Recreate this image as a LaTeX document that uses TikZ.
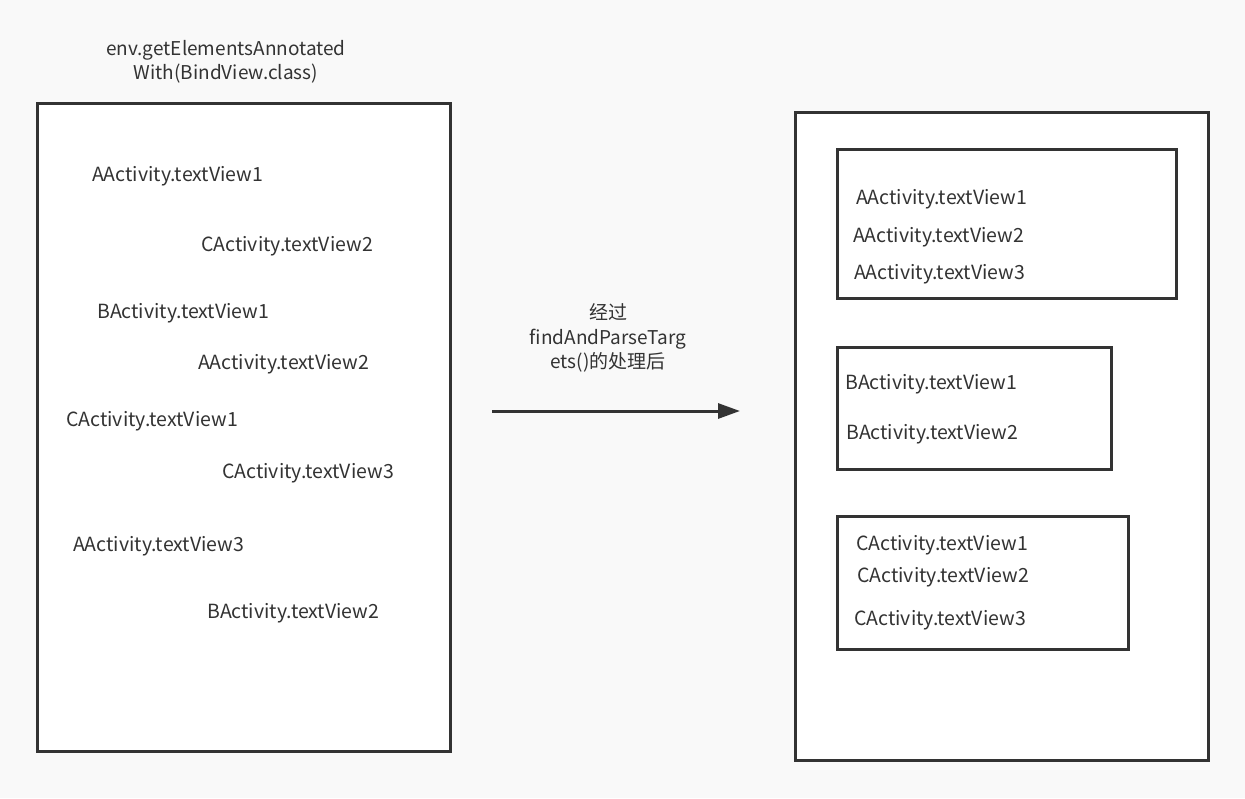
\documentclass[tikz,border=0pt]{standalone}
\usepackage{fontspec}
\setmainfont{Noto Sans CJK SC}
\usetikzlibrary{arrows.meta}
\definecolor{bg}{HTML}{F9F9F9}
\definecolor{ink}{HTML}{333333}
\tikzset{
  frame/.style={draw=ink, line width=3pt, fill=white},
  lbl/.style={anchor=west, inner sep=0pt, text=ink, font=\fontsize{19.5}{19.5}\selectfont, yshift=-2pt},
  captext/.style={inner sep=0pt, text=ink, font=\fontsize{19}{24.5}\selectfont, align=center},
}
\begin{document}
\begin{tikzpicture}[x=1pt,y=-1pt]
\fill[bg] (0,0) rectangle (1245,798);
\useasboundingbox (0,0) rectangle (1245,798);
% left box
\draw[frame] (37,103) rectangle (450,751);
\node[captext] (title) at (226,62) {env.getElementsAnnotated\\With(BindView.class)};
\node[lbl] (l1) at (92,174) {AActivity.textView1};
\node[lbl] (l2) at (201,244) {CActivity.textView2};
\node[lbl] (l3) at (97,311) {BActivity.textView1};
\node[lbl] (l4) at (198,362) {AActivity.textView2};
\node[lbl] (l5) at (66,419) {CActivity.textView1};
\node[lbl] (l6) at (222,471) {CActivity.textView3};
\node[lbl] (l7) at (73,544) {AActivity.textView3};
\node[lbl] (l8) at (207,611) {BActivity.textView2};
% arrow
\coordinate (as) at (492,411);
\coordinate (ae) at (740,411);
\draw[ink, line width=3pt, -{Triangle[length=22pt,width=15pt]}] (as) -- (ae);
\node[captext] (mid) at (608,338) {经过\\findAndParseTarg\\ets()的处理后};
% right box
\draw[frame] (795,112) rectangle (1208,760);
\draw[frame] (837,149) rectangle (1176,298);
\node[lbl] (a1) at (856,197) {AActivity.textView1};
\node[lbl] (a2) at (853,235) {AActivity.textView2};
\node[lbl] (a3) at (854,272) {AActivity.textView3};
\draw[frame] (837,347) rectangle (1111,469);
\node[lbl] (b1) at (845,382) {BActivity.textView1};
\node[lbl] (b2) at (846,432) {BActivity.textView2};
\draw[frame] (837,516) rectangle (1128,649);
\node[lbl] (c1) at (856,543) {CActivity.textView1};
\node[lbl] (c2) at (857,575) {CActivity.textView2};
\node[lbl] (c3) at (854,618) {CActivity.textView3};
\end{tikzpicture}
\end{document}
